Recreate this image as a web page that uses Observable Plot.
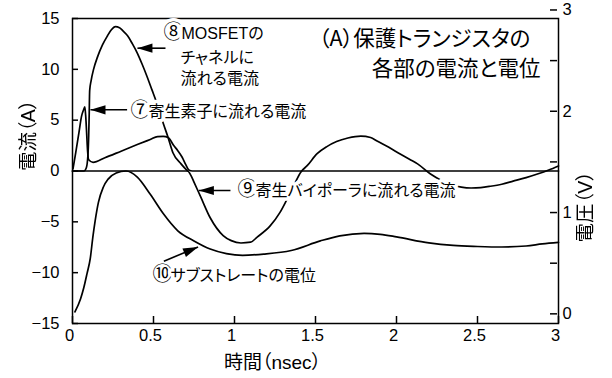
<!DOCTYPE html>
<html>
<head>
<meta charset="utf-8">
<script src="https://cdn.jsdelivr.net/npm/d3@7"></script>
<script src="https://cdn.jsdelivr.net/npm/@observablehq/plot@0.6"></script>
<style>
  body { margin: 0; background: #fff; }
  svg text { font-feature-settings: "palt"; }
</style>
</head>
<body>
<div id="chart"></div>
<script>
// ⑦ current through the parasitic element (A) versus time (nsec)
const parasiticT = [0.003, 0.02, 0.04, 0.056, 0.068, 0.076, 0.082, 0.088, 0.093, 0.1, 0.127, 0.2, 0.3, 0.4, 0.48, 0.525, 0.56, 0.59, 0.625, 0.65, 0.677, 0.7, 0.718, 0.74, 1.5, 3.0];
const parasiticI = [0.2, 1.8, 3.8, 5.4, 6.0, 6.3, 5.3, 3.5, 2.0, 1.1, 0.85, 1.3, 1.95, 2.6, 3.1, 3.38, 3.4, 3.3, 2.5, 2.0, 1.35, 0.6, 0.1, 0, 0, 0];

// ⑧ current through the MOSFET channel (A)
const channelT = [0, 0.07, 0.085, 0.095, 0.1, 0.103, 0.106, 0.115, 0.13, 0.154, 0.185, 0.216, 0.24, 0.265, 0.29, 0.31, 0.34, 0.37, 0.4, 0.43, 0.46, 0.49, 0.52, 0.56, 0.59, 0.62, 0.67, 0.71];
const channelI = [0, 0, 0.3, 1.5, 3.5, 5.5, 7.9, 8.9, 10.0, 11.2, 12.4, 13.3, 13.9, 14.2, 14.1, 13.8, 13.3, 12.5, 11.6, 10.5, 9.3, 8.0, 6.7, 4.7, 3.3, 1.8, 0.7, 0];

// ⑨ current through the parasitic bipolar transistor (A)
const bipolarT = [0, 0.71, 0.73, 0.75, 0.79, 0.85, 0.93, 0.98, 1.04, 1.1, 1.14, 1.22, 1.28, 1.325, 1.37, 1.41, 1.45, 1.51, 1.57, 1.63, 1.7, 1.78, 1.84, 1.88, 1.95, 2.02, 2.08, 2.13, 2.21, 2.28, 2.35, 2.4, 2.46, 2.52, 2.58, 2.65, 2.72, 2.8, 2.87, 2.94, 3.0];
const bipolarI = [0, 0, -0.4, -1.1, -2.5, -4.6, -6.35, -6.85, -7.08, -7.0, -6.5, -5.4, -4.1, -2.75, -1.3, -0.1, 0.55, 1.7, 2.4, 2.9, 3.25, 3.44, 3.3, 2.95, 2.35, 1.7, 1.15, 0.7, -0.3, -0.95, -1.4, -1.58, -1.67, -1.63, -1.5, -1.3, -1.0, -0.65, -0.3, 0.1, 0.5];

// ⑩ substrate potential (V), read on the right-hand axis
const substrateT = [0.015, 0.05, 0.07, 0.09, 0.11, 0.125, 0.14, 0.16, 0.19, 0.22, 0.27, 0.33, 0.4, 0.48, 0.56, 0.65, 0.75, 0.85, 0.95, 1.05, 1.18, 1.35, 1.53, 1.65, 1.8, 1.9, 2.0, 2.2, 2.35, 2.5, 2.65, 2.8, 2.9, 3.0];
const substrateV = [0.02, 0.15, 0.26, 0.4, 0.55, 0.75, 0.92, 1.1, 1.25, 1.33, 1.39, 1.41, 1.35, 1.18, 0.99, 0.82, 0.72, 0.64, 0.595, 0.578, 0.59, 0.625, 0.72, 0.77, 0.795, 0.785, 0.76, 0.7, 0.675, 0.665, 0.66, 0.67, 0.69, 0.705];

// Axis ticks
const xTicks = [0, 0.5, 1, 1.5, 2, 2.5, 3];
const xTickLabels = ["0", "0.5", "1", "1.5", "2", "2.5", "3"];
const currentTicks = [-15, -10, -5, 0, 5, 10, 15];
const voltTicks = [0, 0.5, 1, 1.5, 2, 2.5, 3];
const voltLabelTicks = [0, 1, 2, 3];

// Texts
const titleLines = ["（A）保護トランジスタの", "各部の電流と電位"];
const xLabel = "時間（nsec）";
const yLabelLeft = "電流（A）";
const yLabelRight = "電圧（V）";

// Callout labels: text and anchor (nsec, A)
const notes = [
  {text: "⑧MOSFETの", t: 0.562, i: 13.5},
  {text: "チャネルに", t: 0.667, i: 11.15},
  {text: "流れる電流", t: 0.667, i: 9.1},
  {text: "⑦寄生素子に流れる電流", t: 0.358, i: 5.8},
  {text: "⑨寄生バイポーラに流れる電流", t: 1.019, i: -1.92},
  {text: "⑩サブストレートの電位", t: 0.494, i: -10.28}
];
// Callout arrows: tail → tip (nsec, A)
const arrows = [
  {t1: 0.574, i1: 12.08, t2: 0.401, i2: 12.08},
  {t1: 0.337, i1: 6.02, t2: 0.111, i2: 6.02},
  {t1: 0.975, i1: -1.92, t2: 0.78, i2: -1.92},
  {t1: 0.564, i1: -8.87, t2: 0.775, i2: -7.47}
];

// Right-hand axis: volts placed on the current scale
const voltZeroAt = -14.05;   // A position of 0 V
const ampsPerVolt = 9.963;
const vToA = (v) => voltZeroAt + ampsPerVolt * v;

const W = 612, H = 378;
const mL = 72, mR = 54, mT = 18, mB = 55;
const xDomain = [0, 3], yDomain = [-15, 15];

const font = "'Liberation Sans', 'Noto Sans CJK JP', sans-serif";
const cjk = "'Noto Sans CJK JP', sans-serif";

const toRows = (ts, vs, f = (v) => v) => ts.map((t, k) => ({t, i: f(vs[k])}));
const parasitic = toRows(parasiticT, parasiticI);
const channel = toRows(channelT, channelI);
const bipolar = toRows(bipolarT, bipolarI);
const substrate = toRows(substrateT, substrateV, vToA);

// Arrowhead orientation from screen-space direction
const xs = Plot.scale({x: {domain: xDomain, range: [mL, W - mR]}});
const ys = Plot.scale({y: {domain: yDomain, range: [H - mB, mT]}});
const heads = arrows.map((a) => {
  const dx = xs.apply(a.t2) - xs.apply(a.t1);
  const dy = ys.apply(a.i2) - ys.apply(a.i1);
  return {t: a.t2, i: a.i2, angle: Math.atan2(dx, -dy) * 180 / Math.PI};
});
const arrowHead = {
  draw(context) {
    context.moveTo(0, 0);
    context.lineTo(4.6, 15);
    context.lineTo(-4.6, 15);
    context.closePath();
  }
};

const curve = {x: "t", y: "i", stroke: "black", strokeWidth: 1.7, curve: "monotone-x"};
const halo = {stroke: "white", strokeWidth: 7, fill: "black"};

const chart = Plot.plot({
  width: W,
  height: H,
  marginLeft: mL,
  marginRight: mR,
  marginTop: mT,
  marginBottom: mB,
  style: {fontFamily: font, background: "white", color: "black"},
  x: {domain: xDomain},
  y: {domain: yDomain},
  marks: [
    // axes: inward ticks, labels outside
    Plot.axisX({ticks: xTicks, tickSize: -7, strokeWidth: 1.5, text: null}),
    Plot.axisX({ticks: xTicks, tickSize: 0, tickPadding: 6, dx: -3, fontSize: 16.5,
      tickFormat: (d, k) => xTickLabels[k]}),
    Plot.axisY({ticks: currentTicks, tickSize: -6, strokeWidth: 1.5, text: null}),
    Plot.axisY({ticks: currentTicks, tickSize: 0, tickPadding: 13, fontSize: 16.5,
      tickFormat: (d) => String(d).replace("-", "−")}),
    Plot.axisY({anchor: "right", ticks: voltTicks.map(vToA), tickSize: -7, dx: -2, strokeWidth: 1.5, text: null}),
    Plot.axisY({anchor: "right", ticks: voltLabelTicks.map(vToA), tickSize: 0, tickPadding: 4, fontSize: 16.5,
      tickFormat: (d, k) => String(voltLabelTicks[k])}),
    Plot.frame({stroke: "black", strokeWidth: 1.5}),

    // curves
    Plot.line(parasitic, curve),
    Plot.line(channel, curve),
    Plot.line(bipolar, curve),
    Plot.line(substrate, curve),

    // callout labels (white halo masks lines beneath)
    Plot.text(notes, {x: "t", y: "i", text: "text", textAnchor: "start", lineAnchor: "middle",
      fontSize: 16, ...halo}),
    Plot.link(arrows, {x1: "t1", y1: "i1", x2: "t2", y2: "i2", stroke: "black", strokeWidth: 1.6}),
    Plot.dot(heads, {x: "t", y: "i", rotate: "angle", symbol: arrowHead, r: 3, fill: "black", stroke: null}),

    // title
    Plot.text([titleLines[0]], {x: [1.52], y: [12.98], textAnchor: "start", lineAnchor: "middle",
      fontSize: 21.5, fontFamily: cjk, fill: "black"}),
    Plot.text([titleLines[1]], {x: [2.889], y: [9.98], textAnchor: "end", lineAnchor: "middle",
      fontSize: 21.5, fontFamily: cjk, fill: "black"}),

    // axis titles
    Plot.text([xLabel], {frameAnchor: "bottom", dx: -43, dy: 39, lineAnchor: "middle", fontSize: 19, fill: "black"}),
    Plot.text([yLabelLeft], {frameAnchor: "left", dx: -44, rotate: -90, lineAnchor: "middle", fontSize: 19.5,
      fill: "black", className: "vlabel"}),
    Plot.text([yLabelRight], {frameAnchor: "right", dx: 27, rotate: -90, lineAnchor: "middle", fontSize: 19.5,
      fill: "black", className: "vlabel"})
  ]
});

// circled numbers: CJK face, enlarged to full width
const svgNS = "http://www.w3.org/2000/svg";
const circled = /([⑦⑧⑨⑩])/;
chart.querySelectorAll("text").forEach((el) => {
  if (!circled.test(el.textContent) || el.querySelector("tspan")) return;
  const parts = el.textContent.split(circled).filter((p) => p);
  el.textContent = "";
  for (const p of parts) {
    const ts = document.createElementNS(svgNS, "tspan");
    if (circled.test(p)) {
      ts.setAttribute("font-family", cjk);
      ts.setAttribute("font-size", "1.25em");
      ts.setAttribute("letter-spacing", "-2");
    }
    ts.textContent = p;
    el.append(ts);
  }
});
// rotated axis titles: plain grey-scale antialiasing
chart.querySelectorAll(".vlabel text, text.vlabel").forEach((el) => el.style.filter = "grayscale(100%)");

document.getElementById("chart").append(chart);
</script>
</body>
</html>
